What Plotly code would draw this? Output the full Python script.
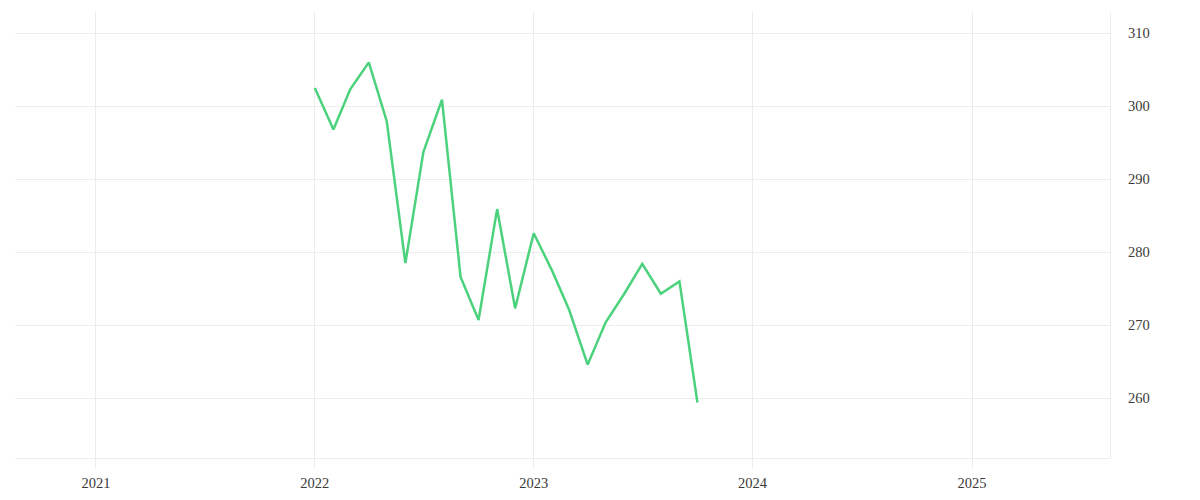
import plotly.graph_objects as go

months = ["2022-01-01", "2022-02-01", "2022-03-01", "2022-04-01", "2022-05-01", "2022-06-01",
          "2022-07-01", "2022-08-01", "2022-09-01", "2022-10-01", "2022-11-01", "2022-12-01",
          "2023-01-01", "2023-02-01", "2023-03-01", "2023-04-01", "2023-05-01", "2023-06-01",
          "2023-07-01", "2023-08-01", "2023-09-01", "2023-10-01"]
values = [302.5, 296.8, 302.3, 306.0, 297.9, 278.5,
          293.7, 300.9, 276.6, 270.7, 285.9, 272.3,
          282.6, 277.4, 272.1, 264.6, 270.4, 274.3,
          278.4, 274.3, 276.0, 259.4]
x_ticks = ["2021-01-01", "2022-01-01", "2023-01-01", "2024-01-01", "2025-01-01"]
x_tick_labels = ["2021", "2022", "2023", "2024", "2025"]
y_ticks = [260, 270, 280, 290, 300, 310]

fig = go.Figure()
fig.add_trace(go.Scatter(x=months, y=values, mode="lines",
                         line=dict(color="#4cd27d", width=2.5), hoverinfo="x+y"))

font = dict(family="Liberation Serif, serif", size=14.5, color="#3a3a3a")
fig.update_layout(
    width=1200, height=500,
    margin=dict(l=7, r=98, t=4, b=50),
    paper_bgcolor="white", plot_bgcolor="white",
    showlegend=False,
    font=font,
    xaxis=dict(range=["2020-08-19", "2025-08-19"], tickvals=x_ticks, ticktext=x_tick_labels,
               showgrid=True, gridcolor="#ececec", gridwidth=1,
               showline=True, linecolor="#ececec", linewidth=1,
               ticks="outside", ticklen=10, tickcolor="#ececec", zeroline=False,
               ticklabelstandoff=2, tickfont=font),
    yaxis=dict(range=[251.8, 312.9], tickvals=y_ticks, side="right",
               showgrid=True, gridcolor="#ececec", gridwidth=1,
               showline=True, linecolor="#ececec", linewidth=1,
               ticks="outside", ticklen=14, tickcolor="rgba(0,0,0,0)", zeroline=False,
               tickfont=font),
)
fig.write_html("out.html")
